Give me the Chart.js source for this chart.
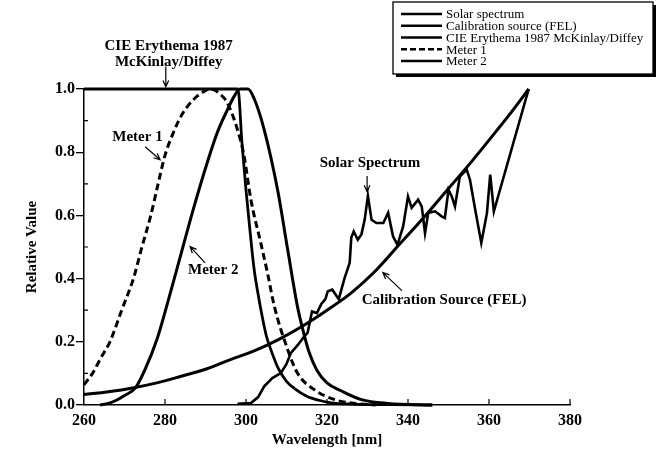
<!DOCTYPE html>
<html>
<head>
<meta charset="utf-8">
<title>Relative spectral response</title>
<script src="https://cdn.jsdelivr.net/npm/chart.js@4"></script>
<style>
  html, body { margin: 0; padding: 0; background: #fff; }
</style>
</head>
<body>
<canvas id="chart" width="658" height="452"></canvas>
<script>
// values (wavelength in nm, relative value 0..1)
const solarWl = [297.9, 301.2, 303, 304.5, 306.5, 308.6, 310, 311.1, 312.8, 314.4, 315.2, 316.3, 317.5, 318.6, 319.6, 320.2, 321.3, 322.9, 324.3, 325.6, 326, 326.6, 327.6, 328.5, 329.3, 330.1, 331, 332.2, 333.9, 335.1, 336.3, 337.4, 338.8, 340, 340.9, 342.5, 343.4, 344.2, 345, 346.7, 348.3, 349.1, 350, 350.8, 351.6, 352.8, 354.5, 355.3, 356.6, 358.1, 359.5, 360.3, 361.2, 369.8];
const solarVal = [0.004, 0.006, 0.025, 0.059, 0.085, 0.101, 0.13, 0.165, 0.19, 0.217, 0.228, 0.296, 0.291, 0.32, 0.335, 0.36, 0.365, 0.335, 0.4, 0.45, 0.53, 0.549, 0.523, 0.54, 0.586, 0.662, 0.586, 0.576, 0.576, 0.608, 0.534, 0.507, 0.565, 0.66, 0.624, 0.65, 0.628, 0.544, 0.608, 0.613, 0.597, 0.592, 0.681, 0.66, 0.628, 0.723, 0.745, 0.713, 0.618, 0.513, 0.608, 0.729, 0.613, 1.0];

const felWl = [260, 266, 272, 278, 284, 290, 296, 302, 308, 314, 320, 326, 332, 338, 344, 350, 356, 362, 366, 369.8];
const felVal = [0.033, 0.042, 0.054, 0.07, 0.091, 0.113, 0.143, 0.171, 0.207, 0.25, 0.3, 0.355, 0.425, 0.51, 0.595, 0.685, 0.775, 0.87, 0.935, 1.0];

const cieWl = [260, 298, 299, 300, 301, 302, 303, 304, 305, 306, 308, 310, 312, 315, 318, 321, 326, 335, 346];
const cieVal = [1.0, 1.0, 0.83, 0.68, 0.55, 0.43, 0.35, 0.28, 0.22, 0.18, 0.115, 0.075, 0.052, 0.028, 0.015, 0.007, 0.003, 0.001, 0.0];

const meter1Wl = [260, 262.1, 264.2, 266.4, 269.3, 272.2, 274.3, 276.5, 278.3, 280, 282, 284, 286, 288, 290, 291, 292, 293.5, 295.4, 297.9, 299.5, 301.2, 303.7, 305.3, 307, 310.3, 312.7, 316.9, 321.9, 326, 332];
const meter1Val = [0.064, 0.1, 0.15, 0.2, 0.3, 0.4, 0.5, 0.6, 0.7, 0.79, 0.86, 0.915, 0.952, 0.978, 0.995, 1.0, 0.998, 0.985, 0.956, 0.871, 0.79, 0.65, 0.51, 0.418, 0.312, 0.175, 0.101, 0.048, 0.017, 0.006, 0.0];

const meter2Wl = [264, 266, 268, 270, 272.7, 275, 278, 281, 284, 287, 290.4, 293, 295.4, 297, 298.5, 300.5, 302, 304.5, 307.8, 310.3, 312.7, 314, 315.5, 317.5, 320, 323.5, 328.5, 335, 346];
const meter2Val = [0.0, 0.005, 0.015, 0.03, 0.054, 0.11, 0.207, 0.34, 0.48, 0.62, 0.766, 0.865, 0.934, 0.975, 1.0, 1.0, 0.97, 0.871, 0.681, 0.491, 0.312, 0.24, 0.17, 0.11, 0.07, 0.045, 0.017, 0.005, 0.0];

const seriesLabels = ['Solar spectrum', 'Calibration source (FEL)', 'CIE Erythema 1987 McKinlay/Diffey', 'Meter 1', 'Meter 2'];

const xTickVals = [260, 280, 300, 320, 340, 360, 380];
const yTickVals = [0, 0.2, 0.4, 0.6, 0.8, 1.0];
const yMinorVals = [0.1, 0.3, 0.5, 0.7, 0.9];

// callouts in data units
const notes = [
  { lines: ['CIE Erythema 1987', 'McKinlay/Diffey'], x: 280.9, y: 1.137, arrow: [280.2, 1.071, 280.2, 1.007] },
  { lines: ['Meter 1'], x: 273.2, y: 0.849, arrow: [275.1, 0.817, 278.8, 0.776] },
  { lines: ['Meter 2'], x: 291.9, y: 0.428, arrow: [289.9, 0.45, 286.2, 0.501] },
  { lines: ['Solar Spectrum'], x: 330.6, y: 0.767, arrow: [329.9, 0.725, 329.9, 0.675] },
  { lines: ['Calibration Source (FEL)'], x: 348.9, y: 0.333, arrow: [338.5, 0.362, 333.8, 0.419] }
];

const serif = '"Liberation Serif", "Times New Roman", serif';

function pts(xs, ys) {
  return xs.map((x, i) => ({ x: x, y: ys[i] }));
}

function arrow(ctx, x1, y1, x2, y2) {
  const a = Math.atan2(y2 - y1, x2 - x1);
  const h = 7;
  ctx.beginPath();
  ctx.moveTo(x1, y1);
  ctx.lineTo(x2, y2);
  ctx.moveTo(x2 - h * Math.cos(a - 0.42), y2 - h * Math.sin(a - 0.42));
  ctx.lineTo(x2, y2);
  ctx.lineTo(x2 - h * Math.cos(a + 0.42), y2 - h * Math.sin(a + 0.42));
  ctx.stroke();
}

const decorations = {
  id: 'decorations',
  afterDraw(chart) {
    const ctx = chart.ctx;
    const xs = chart.scales.x, ys = chart.scales.y;
    const area = chart.chartArea;
    ctx.save();
    ctx.strokeStyle = '#000';
    ctx.fillStyle = '#000';

    // inward ticks
    ctx.lineWidth = 1.2;
    ctx.beginPath();
    xTickVals.slice(1).forEach(v => {
      const px = xs.getPixelForValue(v);
      ctx.moveTo(px, area.bottom);
      ctx.lineTo(px, area.bottom - 6);
    });
    yMinorVals.forEach(v => {
      const py = ys.getPixelForValue(v);
      ctx.moveTo(area.left, py);
      ctx.lineTo(area.left + 4, py);
    });
    ctx.stroke();

    // callouts
    ctx.font = 'bold 15px ' + serif;
    ctx.textAlign = 'center';
    ctx.textBaseline = 'middle';
    ctx.lineWidth = 1.2;
    notes.forEach(n => {
      const cx = xs.getPixelForValue(n.x);
      const cy = ys.getPixelForValue(n.y);
      n.lines.forEach((t, i) => ctx.fillText(t, cx, cy + i * 16));
      const a = n.arrow;
      arrow(ctx, xs.getPixelForValue(a[0]), ys.getPixelForValue(a[1]),
                 xs.getPixelForValue(a[2]), ys.getPixelForValue(a[3]));
    });

    // legend box with drop shadow
    const bx = 393, by = 2, bw = 260, bh = 72;
    ctx.fillStyle = '#000';
    ctx.fillRect(bx + 3, by + 3, bw, bh);
    ctx.fillStyle = '#fff';
    ctx.fillRect(bx, by, bw, bh);
    ctx.lineWidth = 1.3;
    ctx.strokeRect(bx, by, bw, bh);
    ctx.font = '13px ' + serif;
    ctx.textAlign = 'left';
    ctx.fillStyle = '#000';
    chart.data.datasets.forEach((ds, i) => {
      const ry = 14 + i * 11.75;
      ctx.lineWidth = 2.6;
      ctx.setLineDash(ds.borderDash ? [6, 3] : []);
      ctx.beginPath();
      ctx.moveTo(401, ry);
      ctx.lineTo(442, ry);
      ctx.stroke();
      ctx.setLineDash([]);
      ctx.fillText(ds.label, 446, ry + 1);
    });
    ctx.restore();
  }
};

const common = { borderColor: '#000', pointRadius: 0, fill: false, clip: false };

new Chart(document.getElementById('chart').getContext('2d'), {
  type: 'line',
  data: {
    datasets: [
      Object.assign({ label: seriesLabels[0], data: pts(solarWl, solarVal), borderWidth: 2.6, tension: 0 }, common),
      Object.assign({ label: seriesLabels[1], data: pts(felWl, felVal), borderWidth: 3, tension: 0.4 }, common),
      Object.assign({ label: seriesLabels[2], data: pts(cieWl, cieVal), borderWidth: 2.8, cubicInterpolationMode: 'monotone' }, common),
      Object.assign({ label: seriesLabels[3], data: pts(meter1Wl, meter1Val), borderWidth: 3, borderDash: [7, 4], cubicInterpolationMode: 'monotone' }, common),
      Object.assign({ label: seriesLabels[4], data: pts(meter2Wl, meter2Val), borderWidth: 3, cubicInterpolationMode: 'monotone' }, common)
    ]
  },
  options: {
    responsive: false,
    animation: false,
    layout: { padding: { top: 89, right: 88, left: 0, bottom: 0 } },
    plugins: { legend: { display: false }, tooltip: { enabled: false } },
    scales: {
      x: {
        type: 'linear', min: 260, max: 380,
        afterBuildTicks: s => { s.ticks = xTickVals.map(v => ({ value: v })); },
        afterFit: s => { s.height = 47; },
        grid: { drawOnChartArea: false, drawTicks: false },
        border: { display: true, color: '#000', width: 1.5 },
        ticks: { color: '#000', padding: 6, maxRotation: 0, font: { family: serif, size: 16, weight: 'bold' } },
        title: { display: true, text: 'Wavelength [nm]', color: '#000', padding: { top: 0, bottom: 3 }, font: { family: serif, size: 15, weight: 'bold' } }
      },
      y: {
        type: 'linear', min: 0, max: 1.0,
        afterBuildTicks: s => { s.ticks = yTickVals.map(v => ({ value: v })); },
        afterFit: s => { s.width = 84; },
        grid: { drawOnChartArea: false, drawTicks: true, tickLength: 8, color: '#000', lineWidth: 1.3 },
        border: { display: true, color: '#000', width: 1.5 },
        ticks: { color: '#000', padding: 1, callback: v => v.toFixed(1), font: { family: serif, size: 16, weight: 'bold' } },
        title: { display: true, text: 'Relative Value', color: '#000', padding: { top: 23, bottom: 0 }, font: { family: serif, size: 15, weight: 'bold' } }
      }
    }
  },
  plugins: [decorations]
});
</script>
</body>
</html>
